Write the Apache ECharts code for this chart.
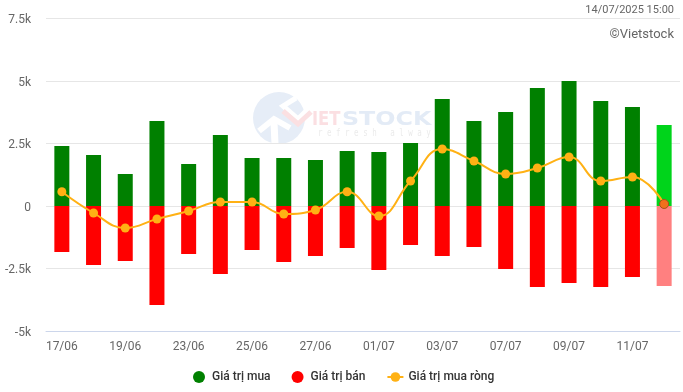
<!DOCTYPE html>
<html>
<head>
<meta charset="utf-8">
<style>
  html, body { margin: 0; padding: 0; background: #fff; }
  #chart { width: 683px; height: 392px; }
</style>
<script src="https://cdn.jsdelivr.net/npm/echarts@6/dist/echarts.min.js"></script>
</head>
<body>
<div id="chart"></div>
<script>
const dates = ['17/06', '18/06', '19/06', '20/06', '23/06', '24/06', '25/06', '26/06', '27/06', '30/06',
  '01/07', '02/07', '03/07', '04/07', '07/07', '08/07', '09/07', '10/07', '11/07', '14/07'];
const buyValues = [2400, 2040, 1280, 3400, 1680, 2840, 1920, 1920, 1840, 2200,
  2160, 2520, 4280, 3400, 3760, 4720, 5000, 4200, 3960, 3240];
const sellValues = [-1840, -2360, -2200, -3960, -1920, -2720, -1760, -2240, -2000, -1680,
  -2560, -1560, -2000, -1640, -2520, -3240, -3080, -3240, -2840, -3200];
const netValues = [570, -280, -880, -520, -200, 160, 160, -320, -160, 570,
  -400, 1000, 2280, 1800, 1280, 1520, 1960, 1000, 1160, 80];

const lastIndex = dates.length - 1;
const font = 'Roboto, sans-serif';

// the running session (last column) is drawn in lighter colours
const withLast = (values, style) =>
  values.map((value, i) => (i === lastIndex ? { value, itemStyle: style } : value));

const chart = echarts.init(document.getElementById('chart'));
chart.setOption({
  animation: false,
  textStyle: { fontFamily: font },
  grid: { left: 46, right: 3, top: 18.5, bottom: 61 },
  legend: {
    left: 188,
    top: 366,
    itemWidth: 16,
    itemHeight: 12,
    itemGap: 21,
    textStyle: { fontFamily: font, fontSize: 12, fontWeight: 500, color: '#333' },
    data: [
      { name: 'Giá trị mua', icon: 'circle' },
      { name: 'Giá trị bán', icon: 'circle' },
      { name: 'Giá trị mua ròng' }
    ]
  },
  xAxis: {
    type: 'category',
    data: dates,
    axisLine: { onZero: false, lineStyle: { color: '#ccd6eb' } },
    axisTick: { show: false },
    axisLabel: { interval: 1, color: '#666', fontSize: 12, margin: 10 }
  },
  yAxis: {
    type: 'value',
    min: -5000,
    max: 7500,
    interval: 2500,
    axisLine: { show: false },
    axisTick: { show: false },
    splitLine: { lineStyle: { color: '#e6e6e6' } },
    axisLabel: {
      color: '#666',
      fontSize: 12,
      margin: 15,
      // labels sit a little under their grid line
      verticalAlign: 'top',
      verticalAlignMaxLabel: 'top',
      verticalAlignMinLabel: 'top',
      lineHeight: 3,
      formatter: value => (value === 0 ? '0' : value / 1000 + 'k')
    }
  },
  series: [
    {
      name: 'Giá trị mua',
      type: 'bar',
      stack: 'total',
      barWidth: 15,
      itemStyle: { color: '#008000' },
      data: withLast(buyValues, { color: '#00d41b' })
    },
    {
      name: 'Giá trị bán',
      type: 'bar',
      stack: 'total',
      barWidth: 15,
      itemStyle: { color: '#ff0000' },
      data: withLast(sellValues, { color: '#ff8080' })
    },
    {
      name: 'Giá trị mua ròng',
      type: 'line',
      smooth: 0.45,
      symbol: 'circle',
      symbolSize: 9,
      z: 5,
      lineStyle: { color: '#ffb114', width: 2 },
      itemStyle: { color: '#ffb114' },
      data: withLast(netValues, { color: '#f0701c', borderColor: '#a8501a', borderWidth: 1 })
    }
  ],
  graphic: [
    // watermark logo
    { type: 'circle', z: 0, shape: { cx: 279, cy: 118, r: 26 }, style: { fill: '#e6edf7' } },
    { type: 'polyline', z: 0, shape: { points: [[296, 98], [283, 106], [298, 119], [309, 108]] },
      style: { stroke: '#fff', lineWidth: 5, fill: null } },
    { type: 'polyline', z: 0, shape: { points: [[283, 111], [298, 124], [311, 112]] },
      style: { stroke: '#fbe0e2', lineWidth: 5, fill: null } },
    { type: 'polyline', z: 0, shape: { points: [[259, 131], [274, 119], [290, 128]] },
      style: { stroke: '#fff', lineWidth: 6, fill: null } },
    { type: 'line', z: 0, shape: { x1: 274, y1: 122, x2: 275, y2: 144 },
      style: { stroke: '#fff', lineWidth: 7 } },
    { type: 'text', z: 0, x: 312, y: 111, scaleX: 0.86, style: { text: 'IET', fill: '#fbdfe2', font: 'bold 19px "DejaVu Sans"' } },
    { type: 'text', z: 0, x: 342, y: 111, scaleX: 1.25, style: { text: 'STOCK', fill: '#e3ebf6', font: 'bold 19px "DejaVu Sans"' } },
    { type: 'text', z: 0, x: 318, y: 128, scaleX: 0.75, style: { text: 'r e f r e s h   a l w a y s', fill: '#ebebeb', font: '10px "DejaVu Sans Mono"' } },
    // captions
    { type: 'text', style: { x: 674, y: 5, align: 'right', text: '14/07/2025 15:00', fill: '#666', font: '11px Roboto' } },
    { type: 'text', style: { x: 674, y: 28, align: 'right', text: '©Vietstock', fill: '#666', font: '13px Roboto' } }
  ]
});
</script>
</body>
</html>
